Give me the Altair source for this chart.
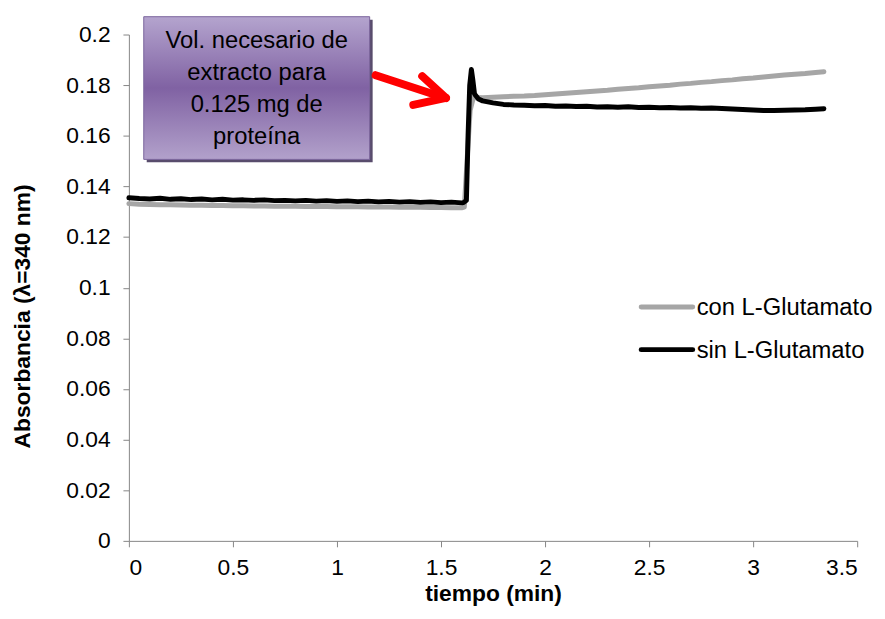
import altair as alt
import pandas as pd

# ---------------- data ----------------
series = ["con L-Glutamato", "sin L-Glutamato"]
colors = ["#a6a6a6", "#000000"]

t_base = [0.00, 0.05, 0.10, 0.15, 0.20, 0.25, 0.30, 0.35, 0.40, 0.45, 0.50,
          0.55, 0.60, 0.65, 0.70, 0.75, 0.80, 0.85, 0.90, 0.95, 1.00, 1.05,
          1.10, 1.15, 1.20, 1.25, 1.30, 1.35, 1.40, 1.45, 1.50, 1.55, 1.60]
t_after = [1.70, 1.75, 1.80, 1.85, 1.90, 1.95, 2.00, 2.05, 2.10, 2.15, 2.20,
           2.25, 2.30, 2.35, 2.40, 2.45, 2.50, 2.55, 2.60, 2.65, 2.70, 2.75,
           2.80, 2.85, 2.90, 2.95, 3.00, 3.05, 3.10, 3.15, 3.20, 3.25, 3.30, 3.34]

t_con_jump = [1.612, 1.625, 1.640, 1.655, 1.670]
t_sin_jump = [1.608, 1.622, 1.630, 1.638, 1.646, 1.653, 1.661, 1.680]

con_base = [0.1332, 0.1330, 0.1329, 0.1328, 0.1328, 0.1327, 0.1326, 0.1326,
            0.1325, 0.1325, 0.1324, 0.1324, 0.1323, 0.1323, 0.1322, 0.1322,
            0.1322, 0.1321, 0.1321, 0.1321, 0.1320, 0.1320, 0.1320, 0.1319,
            0.1319, 0.1319, 0.1318, 0.1318, 0.1318, 0.1317, 0.1317, 0.1316,
            0.1316]
con_jump = [0.1318, 0.1500, 0.1700, 0.1750, 0.1751]
con_after = [0.1750, 0.1752, 0.1754, 0.1756, 0.1757, 0.1759, 0.1762, 0.1765,
             0.1768, 0.1771, 0.1774, 0.1777, 0.1780, 0.1784, 0.1787, 0.1790,
             0.1794, 0.1797, 0.1800, 0.1804, 0.1807, 0.1811, 0.1814, 0.1818,
             0.1821, 0.1825, 0.1828, 0.1832, 0.1836, 0.1840, 0.1843, 0.1846,
             0.1850, 0.1853]

sin_base = [0.1355, 0.1352, 0.1350, 0.1353, 0.1349, 0.1351, 0.1348, 0.1350,
            0.1347, 0.1349, 0.1346, 0.1347, 0.1345, 0.1347, 0.1344, 0.1345,
            0.1343, 0.1345, 0.1342, 0.1344, 0.1341, 0.1343, 0.1340, 0.1342,
            0.1339, 0.1341, 0.1338, 0.1340, 0.1337, 0.1339, 0.1336, 0.1338,
            0.1335]
sin_jump = [0.1336, 0.1345, 0.1600, 0.1800, 0.1862, 0.1820, 0.1765, 0.1745]
sin_after = [0.1738, 0.1730, 0.1724, 0.1722, 0.1721, 0.1719, 0.1720, 0.1717,
             0.1718, 0.1716, 0.1717, 0.1714, 0.1715, 0.1713, 0.1715, 0.1712,
             0.1713, 0.1711, 0.1712, 0.1710, 0.1711, 0.1709, 0.1710, 0.1708,
             0.1706, 0.1704, 0.1702, 0.1700, 0.1700, 0.1701, 0.1702, 0.1703,
             0.1705, 0.1707]

x_ticks = [0, 0.5, 1, 1.5, 2, 2.5, 3, 3.5]
y_ticks = [0, 0.02, 0.04, 0.06, 0.08, 0.1, 0.12, 0.14, 0.16, 0.18, 0.2]

x_title = "tiempo (min)"
y_title = "Absorbancia (λ=340 nm)"
box_lines = ["Vol. necesario de", "extracto para", "0.125 mg de", "proteína"]

# ---------------- table ----------------
t_con = t_base + t_con_jump + t_after
v_con = con_base + con_jump + con_after
t_sin = t_base + t_sin_jump + t_after
v_sin = sin_base + sin_jump + sin_after

df = pd.concat([
    pd.DataFrame({"t": t_con, "a": v_con, "serie": series[0], "k": range(len(t_con))}),
    pd.DataFrame({"t": t_sin, "a": v_sin, "serie": series[1], "k": range(len(t_sin))}),
], ignore_index=True)

FONT = "Liberation Sans"
one = pd.DataFrame({"d": [0]})

lines = alt.Chart(df).mark_line(
    strokeWidth=5, strokeCap="round", strokeJoin="round"
).encode(
    x=alt.X("t:Q", scale=alt.Scale(domain=[0, 3.5], nice=False, zero=False),
            axis=alt.Axis(values=x_ticks, format="~g", title=x_title,
                          labelPadding=10, titlePadding=3)),
    y=alt.Y("a:Q", scale=alt.Scale(domain=[0, 0.2], nice=False),
            axis=alt.Axis(values=y_ticks, format="~g", title=y_title,
                          labelPadding=13, titleX=-107, titleY=284,
                          titleAlign="center", titleBaseline="middle")),
    color=alt.Color("serie:N", scale=alt.Scale(domain=series, range=colors), legend=None),
    order="k:Q",
)

# legend (manual)
leg_layers = []
leg_y = [275, 318]
for i, s in enumerate(series):
    leg_layers.append(
        alt.Chart(one).mark_rule(strokeWidth=5, strokeCap="round", color=colors[i]).encode(
            x=alt.value(517), x2=alt.value(569), y=alt.value(leg_y[i]), y2=alt.value(leg_y[i]))
    )
    leg_layers.append(
        alt.Chart(one).mark_text(text=s, font=FONT, fontSize=24, align="left",
                                 baseline="middle", color="#000000").encode(
            x=alt.value(573), y=alt.value(leg_y[i] + 1))
    )

# annotation box
shadow = alt.Chart(one).mark_rect(color="#3b2d52", opacity=0.85).encode(
    x=alt.value(18), x2=alt.value(246), y=alt.value(-15), y2=alt.value(129))
box = alt.Chart(one).mark_rect(
    color=alt.LinearGradient(
        gradient="linear",
        stops=[alt.GradientStop(color="#b4a4ce", offset=0),
               alt.GradientStop(color="#8062a3", offset=0.5),
               alt.GradientStop(color="#b2a1cb", offset=1)],
        x1=0, x2=0, y1=0, y2=1),
    stroke="#7a649c", strokeWidth=1,
).encode(x=alt.value(15), x2=alt.value(243), y=alt.value(-18), y2=alt.value(126))
box_text = alt.Chart(one).mark_text(
    text=box_lines, font=FONT, fontSize=24, lineHeight=32, align="center",
    baseline="middle", color="#000000"
).encode(x=alt.value(129), y=alt.value(7))

# arrow
red = "#ff0000"
shaft = alt.Chart(one).mark_rule(color=red, strokeWidth=8, strokeCap="round").encode(
    x=alt.value(249), x2=alt.value(316), y=alt.value(41), y2=alt.value(63))
wing1 = alt.Chart(one).mark_rule(color=red, strokeWidth=8, strokeCap="round").encode(
    x=alt.value(296), x2=alt.value(320), y=alt.value(42), y2=alt.value(64))
wing2 = alt.Chart(one).mark_rule(color=red, strokeWidth=8, strokeCap="round").encode(
    x=alt.value(287), x2=alt.value(320), y=alt.value(71), y2=alt.value(64))

chart = alt.layer(
    lines, *leg_layers, shadow, box, box_text, shaft, wing1, wing2
).properties(
    width=735, height=511,
    autosize=alt.AutoSizeParams(type="none"),
    padding={"left": 122, "top": 24, "right": 20, "bottom": 68},
).configure_axis(
    grid=False, domainColor="#868686", tickColor="#868686", tickSize=6,
    labelFont=FONT, titleFont=FONT, labelFontSize=23, titleFontSize=23,
    labelColor="#000000", titleColor="#000000", titleFontWeight="bold",
).configure_view(stroke="transparent")

chart.save("out.html", embed_options={"renderer": "svg", "actions": False})
